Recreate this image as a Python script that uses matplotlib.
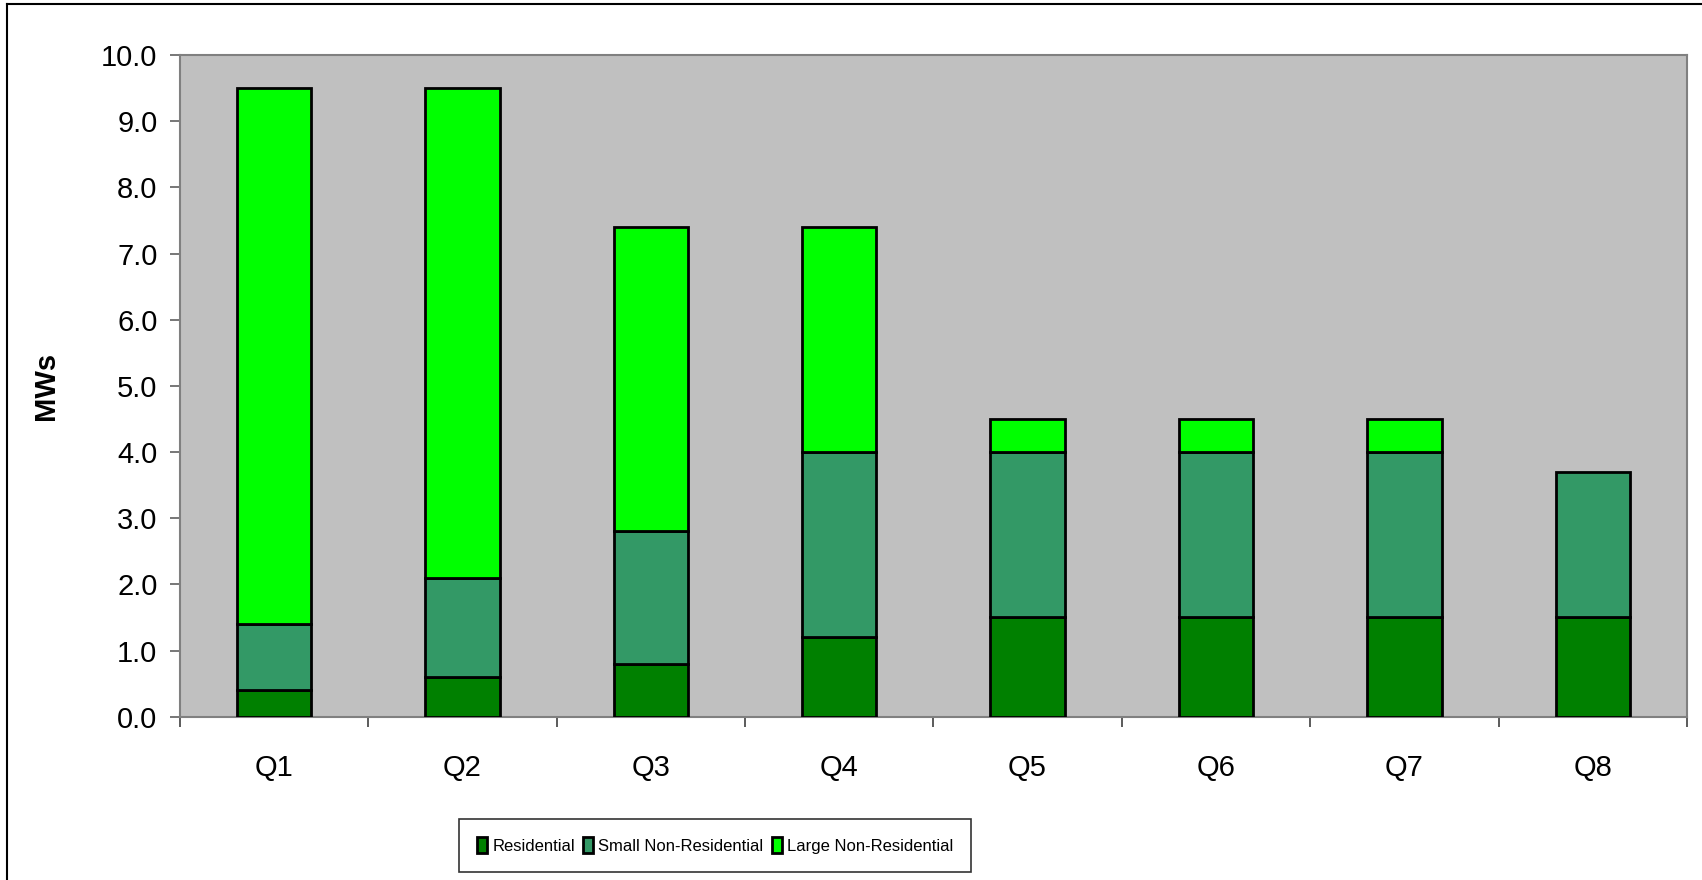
import matplotlib
matplotlib.use("Agg")
import matplotlib.pyplot as plt
import numpy as np
from matplotlib.ticker import FixedLocator, FormatStrFormatter

categories = ["Q1", "Q2", "Q3", "Q4", "Q5", "Q6", "Q7", "Q8"]
residential = [0.4, 0.6, 0.8, 1.2, 1.5, 1.5, 1.5, 1.5]
small_nonres = [1.0, 1.5, 2.0, 2.8, 2.5, 2.5, 2.5, 2.2]
large_nonres = [8.1, 7.4, 4.6, 3.4, 0.5, 0.5, 0.5, 0.0]
series_names = ["Residential", "Small Non-Residential", "Large Non-Residential"]
colors = ["#008000", "#339966", "#00FF00"]

plt.rcParams['font.family'] = ['Liberation Sans', 'DejaVu Sans']

fig = plt.figure(figsize=(17.02, 8.8), dpi=100)
ax = fig.add_axes([179.7/1702, 1-716.7/880, (1687-179.7)/1702, (716.7-55)/880])
ax.set_facecolor("#C0C0C0")

x = np.arange(len(categories))
w = 0.395
bottom = np.zeros(len(categories))
handles = []
for vals, name, c in zip([residential, small_nonres, large_nonres], series_names, colors):
    vals = np.array(vals)
    mask = vals > 0
    b = ax.bar(x[mask], vals[mask], w, bottom=bottom[mask], color=c,
               edgecolor="black", linewidth=2.0, label=name, zorder=3)
    handles.append(b)
    bottom = bottom + vals

ax.set_xlim(-0.5, len(categories) - 0.5)
ax.set_ylim(0, 10)
ax.set_yticks(np.arange(0, 10.01, 1.0))
ax.yaxis.set_major_formatter(FormatStrFormatter('%.1f'))
ax.set_xticks(x)
ax.set_xticklabels(categories)
ax.xaxis.set_minor_locator(FixedLocator(np.arange(-0.5, len(categories), 1.0)))
ax.tick_params(axis='x', which='major', length=0, pad=27, labelsize=21)
ax.tick_params(axis='x', which='minor', length=7, width=1.2, color="#404040")
ax.tick_params(axis='y', which='major', length=7, width=1.2, color="#606060", pad=9, labelsize=21)

for s in ax.spines.values():
    s.set_color("#808080")
    s.set_linewidth(1.5)

ax.set_ylabel("MWs", fontsize=21, fontweight="bold")
ax.yaxis.set_label_coords((60-179.7)/(1687-179.7), 0.5)

# outer chart border (left and top visible)
fig.add_artist(plt.Line2D([7/1702, 7/1702], [0, 1-4.5/880], color="black", linewidth=1.5, transform=fig.transFigure))
fig.add_artist(plt.Line2D([7/1702, 1], [1-4.5/880, 1-4.5/880], color="black", linewidth=1.5, transform=fig.transFigure))

leg = fig.legend(handles, series_names, loc="center", bbox_to_anchor=(715/1702, 1-845.5/880),
                 ncol=3, frameon=True, fancybox=False, edgecolor="black",
                 prop={'size': 12},
                 handlelength=0.6, handleheight=1.1, handletextpad=0.3, columnspacing=0.5,
                 borderpad=1.1, borderaxespad=0)
leg.get_frame().set_linewidth(1.2)

fig.savefig("out.png", dpi=100)
